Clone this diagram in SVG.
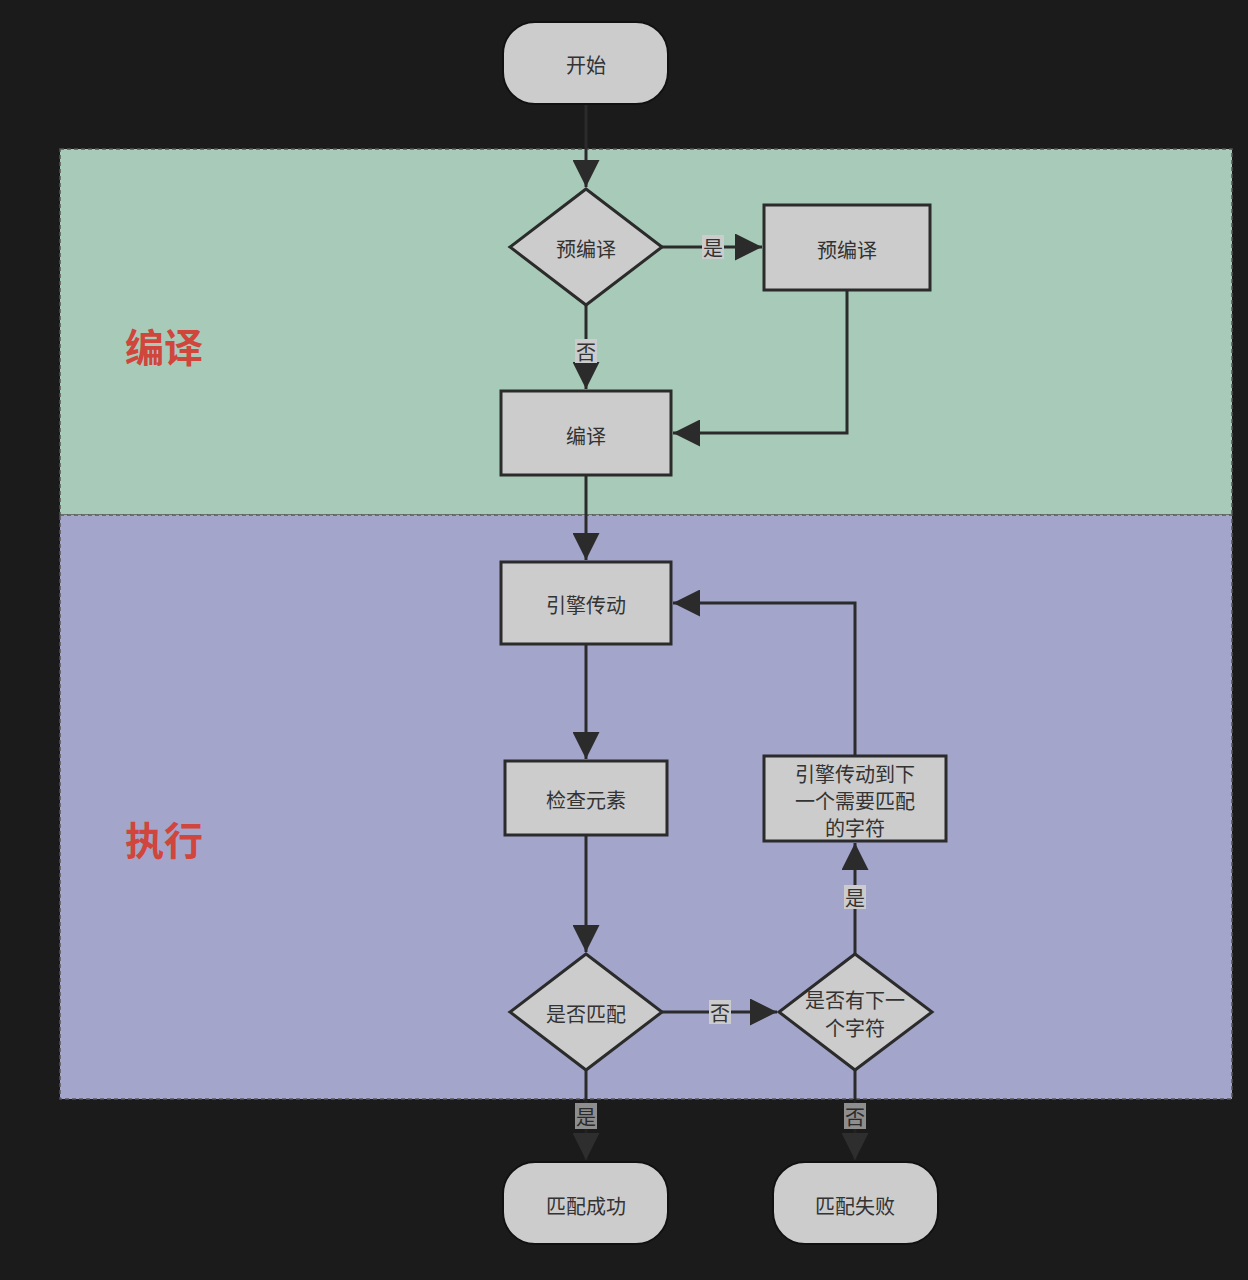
<svg xmlns="http://www.w3.org/2000/svg" width="1248" height="1280" viewBox="0 0 1248 1280">
<defs>
<style>
.node{fill:#cccccc;stroke:#2b2b2b;stroke-width:3}
.term{fill:#cccccc;stroke:#111;stroke-width:2}
.t{font-family:"Noto Sans CJK SC","Noto Sans",sans-serif;font-size:20px;fill:#333;text-anchor:middle;dominant-baseline:central}
.lane-t{font-family:"Noto Sans CJK SC",sans-serif;font-size:39px;font-weight:bold;fill:#d0453c;text-anchor:middle;dominant-baseline:central}
.edge{fill:none;stroke:#2b2b2b;stroke-width:3}
.edge-dim{fill:none;stroke:#222;stroke-width:3}
.lbg{fill:#cccccc}
.lbg2{fill:#8e8e8e}
</style>
<marker id="arr2" viewBox="0 0 10 10" refX="10" refY="5" markerWidth="9" markerHeight="9" orient="auto">
<path d="M0,0 L10,5 L0,10 z" fill="#2b2b2b"/>
</marker>
<marker id="arr3" viewBox="0 0 10 10" refX="10" refY="5" markerWidth="9" markerHeight="9" orient="auto">
<path d="M0,0 L10,5 L0,10 z" fill="#2e2e2e"/>
</marker>
</defs>
<rect width="1248" height="1280" fill="#1b1b1b"/>
<g id="lanes">
<rect x="60" y="149" width="1172" height="366" fill="#a8cbb9" stroke="#555" stroke-width="1.5" stroke-dasharray="4 3"/>
<rect x="60" y="515" width="1172" height="584" fill="#a3a5ca" stroke="#555" stroke-width="1.5" stroke-dasharray="4 3"/>
<text class="lane-t" x="164" y="345">编译</text>
<text class="lane-t" x="164" y="838">执行</text>
</g>
<g id="connectors">
<path class="edge" d="M586,104 V187" marker-end="url(#arr2)"/>
<path class="edge" d="M662,247 H762" marker-end="url(#arr2)"/>
<path class="edge" d="M586,305 V389" marker-end="url(#arr2)"/>
<path class="edge" d="M847,290 V433 H673" marker-end="url(#arr2)"/>
<path class="edge" d="M586,475 V560" marker-end="url(#arr2)"/>
<path class="edge" d="M586,644 V759" marker-end="url(#arr2)"/>
<path class="edge" d="M586,835 V952" marker-end="url(#arr2)"/>
<path class="edge" d="M662,1012 H777" marker-end="url(#arr2)"/>
<path class="edge" d="M855,954 V843" marker-end="url(#arr2)"/>
<path class="edge" d="M855,755 V603 H673" marker-end="url(#arr2)"/>
<path class="edge" d="M586,1070 V1099"/>
<path class="edge-dim" d="M586,1099 V1160" marker-end="url(#arr3)"/>
<path class="edge" d="M855,1070 V1099"/>
<path class="edge-dim" d="M855,1099 V1160" marker-end="url(#arr3)"/>
<rect class="lbg" x="702" y="235" width="22" height="24"/>
<text class="t" x="713" y="247">是</text>
<rect class="lbg" x="575" y="339" width="22" height="24"/>
<text class="t" x="586" y="351">否</text>
<rect class="lbg" x="709" y="1000" width="22" height="24"/>
<text class="t" x="720" y="1012">否</text>
<rect class="lbg" x="844" y="885" width="22" height="24"/>
<text class="t" x="855" y="897">是</text>
<rect class="lbg2" x="575" y="1103" width="22" height="26"/>
<text class="t" x="586" y="1116" style="fill:#2a2a2a">是</text>
<rect class="lbg2" x="844" y="1103" width="22" height="26"/>
<text class="t" x="855" y="1116" style="fill:#2a2a2a">否</text>
</g>
<g id="start">
<rect class="term" x="503" y="22" width="165" height="82" rx="32"/>
<text class="t" x="586" y="64">开始</text>
</g>
<g id="d-precompile">
<polygon class="node" points="586,189 662,247 586,305 510,247"/>
<text class="t" x="586" y="248">预编译</text>
</g>
<g id="precompile">
<rect class="node" x="764" y="205" width="166" height="85"/>
<text class="t" x="847" y="249">预编译</text>
</g>
<g id="compile">
<rect class="node" x="501" y="391" width="170" height="84"/>
<text class="t" x="586" y="435">编译</text>
</g>
<g id="engine">
<rect class="node" x="501" y="562" width="170" height="82"/>
<text class="t" x="586" y="604">引擎传动</text>
</g>
<g id="check">
<rect class="node" x="505" y="761" width="162" height="74"/>
<text class="t" x="586" y="799">检查元素</text>
</g>
<g id="advance">
<rect class="node" x="764" y="756" width="182" height="85"/>
<text class="t" x="855" y="773">引擎传动到下</text>
<text class="t" x="855" y="800">一个需要匹配</text>
<text class="t" x="855" y="827">的字符</text>
</g>
<g id="d-match">
<polygon class="node" points="586,954 662,1012 586,1070 510,1012"/>
<text class="t" x="586" y="1013">是否匹配</text>
</g>
<g id="d-next">
<polygon class="node" points="855,954 932,1012 855,1070 779,1012"/>
<text class="t" x="855" y="999">是否有下一</text>
<text class="t" x="855" y="1027">个字符</text>
</g>
<g id="success">
<rect class="term" x="503" y="1162" width="165" height="82" rx="32"/>
<text class="t" x="586" y="1205">匹配成功</text>
</g>
<g id="fail">
<rect class="term" x="773" y="1162" width="165" height="82" rx="32"/>
<text class="t" x="855" y="1205">匹配失败</text>
</g>
</svg>
